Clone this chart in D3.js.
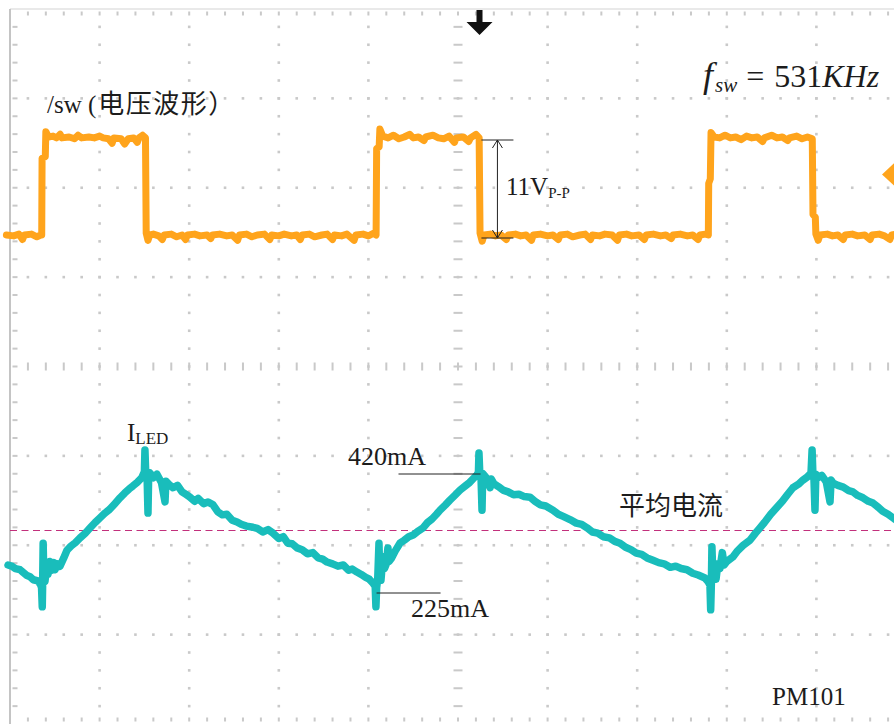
<!DOCTYPE html>
<html>
<head>
<meta charset="utf-8">
<script src="https://cdn.jsdelivr.net/npm/d3@7"></script>
<style>
  body { margin: 0; background: #fff; }
</style>
</head>
<body>
<div id="scope"></div>
<script>
// scope settings: 0.5us/div, 10 x 8 divisions, 5 minor steps per division
const timeDomain = [0, 5]
const divsX = 10, divsY = 8, minorPerDiv = 5

// SW node voltage [t us, V]
const swPoints = [
  [-0.02,0],[0.02,-0.1],[0.05,0.1],[0.07,-0.5],[0.08,0],[0.12,0.1],[0.15,-0.2],[0.172,0],
  [0.177,0],[0.179,8.6],[0.197,8.8],[0.200,11.6],[0.215,11.0],[0.24,11.1],[0.26,10.9],[0.28,11.3],[0.29,10.9],[0.33,11.0],[0.36,10.8],[0.38,11.2],[0.40,10.9],[0.44,11.0],[0.47,10.9],[0.50,11.1],[0.52,10.9],[0.55,10.8],[0.57,10.3],[0.58,10.9],[0.62,10.8],[0.64,10.2],[0.66,10.8],[0.69,10.9],[0.71,10.4],[0.72,10.9],[0.74,11.2],[0.756,10.9],
  [0.760,0.2],[0.77,-0.6],[0.78,0],[0.80,0.1],[0.83,-0.1],[0.85,-0.5],[0.86,0],[0.90,0.1],[0.93,-0.2],[0.96,0],[0.98,-0.5],[0.99,0],[1.03,0.1],[1.06,-0.1],[1.10,0],[1.12,-0.4],[1.13,0],[1.17,0.1],[1.21,-0.1],[1.24,0],[1.27,-0.6],[1.28,0],[1.32,0.1],[1.35,-0.2],[1.38,0],[1.42,0.1],[1.45,-0.5],[1.46,0],[1.50,-0.1],[1.53,0.1],[1.57,-0.1],[1.60,0],[1.62,-0.5],[1.63,0],[1.67,0.1],[1.70,-0.2],[1.74,0],[1.77,0.1],[1.80,-0.5],[1.81,0],[1.85,-0.1],[1.88,0.1],[1.92,-0.6],[1.93,0],[1.97,0.1],[2.00,-0.1],[2.03,0.2],[2.043,0],
  [2.046,9.7],[2.060,9.9],[2.064,11.9],[2.08,11.1],[2.11,10.9],[2.14,11.2],[2.17,10.8],[2.20,11.0],[2.23,11.3],[2.25,10.9],[2.28,11.0],[2.31,10.6],[2.32,11.0],[2.36,11.2],[2.39,10.9],[2.42,10.8],[2.45,11.1],[2.48,10.4],[2.49,10.9],[2.53,11.0],[2.56,10.5],[2.57,10.9],[2.60,11.3],[2.618,10.9],
  [2.623,0.2],[2.635,-0.7],[2.645,0],[2.68,0.1],[2.71,-0.1],[2.74,0],[2.77,-0.5],[2.78,0],[2.82,0.1],[2.85,-0.1],[2.88,0],[2.91,-0.6],[2.92,0],[2.96,0.1],[3.00,-0.1],[3.03,0],[3.06,-0.5],[3.07,0],[3.11,0.1],[3.14,-0.2],[3.18,0],[3.21,0.1],[3.24,-0.5],[3.25,0],[3.29,-0.1],[3.32,0.1],[3.36,0],[3.39,-0.6],[3.40,0],[3.44,0.1],[3.47,-0.1],[3.51,0],[3.54,-0.5],[3.55,0],[3.59,0.1],[3.63,-0.1],[3.66,0],[3.69,-0.4],[3.70,0],[3.74,0.1],[3.78,-0.1],[3.81,0],[3.84,-0.5],[3.85,0],[3.88,0.1],[3.897,0],
  [3.899,5.8],[3.908,6.3],[3.912,11.5],[3.93,11.0],[3.96,10.9],[3.99,11.2],[4.02,10.9],[4.05,11.0],[4.08,10.7],[4.11,11.1],[4.14,10.9],[4.17,11.0],[4.20,10.5],[4.21,10.9],[4.25,11.2],[4.28,10.9],[4.31,11.0],[4.34,10.6],[4.35,10.9],[4.39,11.1],[4.42,10.8],[4.45,11.0],[4.477,10.8],
  [4.481,2.3],[4.494,2.0],[4.497,0.1],[4.51,-0.6],[4.52,0],[4.56,0.1],[4.59,-0.1],[4.62,0],[4.65,-0.5],[4.66,0],[4.70,0.1],[4.73,-0.1],[4.77,0],[4.80,-0.5],[4.81,0],[4.85,0.1],[4.88,-0.1],[4.91,-0.5],[4.92,0],[4.95,0.1]
]

// LED current [t us, mA]
const iledPoints = [
  [-0.011,264],[0.01,262],[0.03,258],[0.056,256],[0.075,251],[0.095,246],[0.112,244],[0.13,239],[0.156,237],[0.17,231],[0.176,226],
  [0.180,193],[0.182,228],[0.185,301],[0.189,240],[0.195,236],[0.205,262],[0.212,248],[0.223,270],[0.232,255],[0.245,268],[0.251,256],[0.265,266],
  [0.279,262],[0.30,276],[0.318,289],[0.34,296],[0.365,302],[0.391,310],[0.42,318],[0.45,328],[0.475,336],[0.502,344],[0.53,352],[0.555,358],[0.585,368],[0.614,378],[0.64,386],[0.665,393],[0.686,398],[0.71,404],[0.735,412],[0.750,422],
  [0.753,459],[0.757,424],[0.765,415],[0.770,352],[0.774,418],[0.781,420],
  [0.80,412],[0.82,418],[0.845,404],[0.865,371],[0.870,406],[0.89,400],[0.91,395],[0.935,399],[0.96,388],[0.98,384],[1.004,379],[1.03,372],[1.05,377],[1.08,368],[1.105,371],[1.133,366],[1.16,354],[1.185,349],[1.21,350],[1.24,340],[1.267,337],[1.29,333],[1.32,330],[1.356,328],[1.38,326],[1.41,320],[1.44,324],[1.468,318],[1.50,309],[1.525,312],[1.55,301],[1.575,300],[1.602,293],[1.63,290],[1.66,283],[1.69,285],[1.72,276],[1.745,274],[1.769,269],[1.80,266],[1.83,262],[1.86,264],[1.89,255],[1.91,257],[1.936,252],[1.96,248],[1.985,243],[2.005,240],[2.026,233],[2.038,228],
  [2.042,193],[2.046,226],[2.052,240],[2.059,301],[2.063,250],[2.07,238],[2.081,278],[2.09,258],[2.10,266],[2.109,293],[2.115,270],[2.13,276],[2.15,288],
  [2.176,301],[2.20,306],[2.225,312],[2.25,315],[2.28,322],[2.305,327],[2.33,336],[2.355,342],[2.38,350],[2.400,357],[2.43,366],[2.455,374],[2.485,383],[2.511,391],[2.54,398],[2.565,404],[2.59,412],[2.606,417],[2.614,421],
  [2.617,454],[2.621,423],[2.628,418],[2.634,357],[2.638,419],[2.65,415],[2.665,409],[2.679,395],[2.685,410],
  [2.70,402],[2.725,397],[2.751,391],[2.78,388],[2.81,383],[2.84,384],[2.87,380],[2.902,379],[2.93,372],[2.96,366],[2.99,364],[3.030,357],[3.06,350],[3.09,346],[3.125,341],[3.16,335],[3.19,333],[3.220,327],[3.25,320],[3.28,318],[3.31,312],[3.345,310],[3.375,304],[3.404,301],[3.435,294],[3.465,290],[3.495,284],[3.525,282],[3.555,276],[3.588,272],[3.62,268],[3.65,266],[3.685,260],[3.715,262],[3.745,258],[3.778,256],[3.81,250],[3.84,247],[3.878,242],[3.895,236],[3.906,230],
  [3.910,188],[3.914,234],[3.917,295],[3.922,245],[3.93,252],[3.94,240],[3.95,266],[3.962,258],[3.975,285],[3.985,264],
  [4.00,270],[4.035,278],[4.06,288],[4.09,297],[4.129,306],[4.16,318],[4.185,327],[4.21,336],[4.245,350],[4.280,362],[4.31,372],[4.34,384],[4.369,395],[4.40,401],[4.425,408],[4.448,413],[4.470,420],
  [4.476,459],[4.480,422],[4.486,414],[4.492,357],[4.497,418],[4.51,412],[4.53,416],[4.555,405],[4.576,371],[4.582,408],
  [4.593,403],[4.62,399],[4.65,396],[4.68,390],[4.704,388],[4.73,382],[4.76,378],[4.79,372],[4.816,369],[4.845,362],[4.87,355],[4.90,350],[4.927,344],[4.94,341]
]

const swLevels = [0, 11]          // V low / high
const iledMarks = [225, 420]      // mA valley / peak
const triggerT = 2.62             // trigger position, us
const triggerLevel = 6.8          // trigger level, V
const ppT = 2.72                  // where the 11Vp-p arrow sits

const SERIF = "'Liberation Serif', 'Times New Roman', serif"
const CJK = "'Noto Sans CJK SC', sans-serif"
const ink = "#1c1c1c"

let W = 894, H = 724
let svg = d3.select("#scope").append("svg").attr("width", W).attr("height", H)

let x = d3.scaleLinear().domain(timeDomain).range([10, 906])
let gx = d3.scaleLinear().domain([0, divsX]).range([10, 906])
let gy = d3.scaleLinear().domain([0, divsY]).range([9, 724])
let yV = d3.scaleLinear().domain(swLevels).range([235, 137])
let yI = d3.scaleLinear().domain(iledMarks).range([588, 473])

// ---- graticule
let grid = svg.append("g")
let minorX = d3.range(0, divsX * minorPerDiv + 1).map(i => i / minorPerDiv)
let minorY = d3.range(0, divsY * minorPerDiv + 1).map(i => i / minorPerDiv)
let dotCol = "#c9c9c9"

for (let k = 1; k < divsY; k++) {
  let centre = k == divsY / 2
  grid.selectAll(null).data(minorX.slice(1)).enter().append("rect")
    .attr("x", d => gx(d) - (centre ? 1 : 1.3))
    .attr("y", gy(k) - (centre ? 4 : 1.3))
    .attr("width", centre ? 2 : 2.6)
    .attr("height", centre ? 8 : 2.6)
    .attr("fill", dotCol)
}
for (let k = 1; k < divsX; k++) {
  let centre = k == divsX / 2
  grid.selectAll(null).data(minorY.slice(1, -1)).enter().append("rect")
    .attr("x", gx(k) - (centre ? 4.5 : 1.3))
    .attr("y", d => gy(d) - (centre ? 1 : 1.3))
    .attr("width", centre ? 9 : 2.6)
    .attr("height", centre ? 2 : 2.6)
    .attr("fill", dotCol)
}
// border + edge ticks
grid.append("line").attr("x1", gx(0)).attr("x2", W).attr("y1", gy(0)).attr("y2", gy(0))
  .attr("stroke", "#d4d4d4").attr("stroke-width", 1.2)
grid.append("line").attr("x1", gx(0)).attr("x2", gx(0)).attr("y1", gy(0)).attr("y2", H)
  .attr("stroke", "#c4c4c4").attr("stroke-width", 2)
grid.selectAll(null).data(minorX.slice(1)).enter().append("rect")
  .attr("x", d => gx(d) - 1).attr("y", gy(0) + 2.5).attr("width", 2).attr("height", 4).attr("fill", dotCol)
grid.selectAll(null).data(minorX.slice(1)).enter().append("rect")
  .attr("x", d => gx(d) - 1).attr("y", gy(divsY) - 6.5).attr("width", 2).attr("height", 4).attr("fill", dotCol)
grid.selectAll(null).data(minorY.slice(1, -1)).enter().append("rect")
  .attr("x", gx(0) + 2.5).attr("y", d => gy(d) - 1).attr("width", 5).attr("height", 2).attr("fill", dotCol)

// ---- average current
let avg = d3.mean(iledMarks)
svg.append("line").attr("x1", gx(0)).attr("x2", W).attr("y1", yI(avg)).attr("y2", yI(avg))
  .attr("stroke", "#c2307c").attr("stroke-width", 1.1).attr("stroke-dasharray", "7,4.5")

// ---- traces
let swLine = d3.line().x(d => x(d[0])).y(d => yV(d[1]))
let iLine = d3.line().x(d => x(d[0])).y(d => yI(d[1]))

svg.append("path").attr("d", swLine(swPoints))
  .attr("fill", "none").attr("stroke", "#ffa41c").attr("stroke-width", 7)
  .attr("stroke-linejoin", "round").attr("stroke-linecap", "round")
svg.append("path").attr("d", iLine(iledPoints))
  .attr("fill", "none").attr("stroke", "#19bdbb").attr("stroke-width", 7.5)
  .attr("stroke-linejoin", "round").attr("stroke-linecap", "round")

// ---- markers
svg.append("path")
  .attr("transform", `translate(${x(triggerT)},0)`)
  .attr("d", "M-3,10L3,10L3,22L13,22L0,35L-13,22L-3,22Z")
  .attr("fill", "#111")
svg.append("path")
  .attr("transform", `translate(${gx(divsX) - 24},${yV(triggerLevel)})`)
  .attr("d", "M0,0L14,-13L14,13Z")
  .attr("fill", "#ffa41c")

// ---- annotations
let ann = svg.append("g").attr("stroke", "#222").attr("stroke-width", 1).attr("fill", "none")
let ax = x(ppT), aTop = yV(swLevels[1]) + 3, aBot = yV(swLevels[0]) + 3
ann.append("line").attr("x1", ax).attr("x2", ax).attr("y1", aTop).attr("y2", aBot)
ann.append("line").attr("x1", ax - 16).attr("x2", ax + 16).attr("y1", aTop).attr("y2", aTop)
ann.append("line").attr("x1", ax - 16).attr("x2", ax + 16).attr("y1", aBot).attr("y2", aBot)
ann.append("path").attr("d", `M${ax - 5},${aTop + 8}L${ax},${aTop}L${ax + 5},${aTop + 8}`)
ann.append("path").attr("d", `M${ax - 5},${aBot - 8}L${ax},${aBot}L${ax + 5},${aBot - 8}`)

let pkT = 2.62, vlT = 2.04
ann.append("line").attr("x1", x(pkT) - 81).attr("x2", x(pkT) + 1).attr("y1", yI(iledMarks[1]) + 1).attr("y2", yI(iledMarks[1]) + 1)
ann.append("line").attr("x1", x(vlT) + 1).attr("x2", x(vlT) + 65).attr("y1", yI(iledMarks[0]) + 5).attr("y2", yI(iledMarks[0]) + 5)

// ---- text
let label = (xp, yp, size) => svg.append("text").attr("x", xp).attr("y", yp)
  .attr("font-size", size).attr("font-family", SERIF).attr("fill", ink)

let t1 = label(47, 113, 25)
t1.append("tspan").attr("font-family", SERIF).text("/sw (")
t1.append("tspan").attr("font-family", CJK).attr("font-size", 26).attr("letter-spacing", 1.5).attr("dx", 2).text("电压波形）")

let t2 = label(703, 87, 32)
t2.append("tspan").attr("font-family", SERIF).attr("font-style", "italic").attr("font-size", 36).text("f")
t2.append("tspan").attr("font-family", SERIF).attr("font-style", "italic").attr("font-size", 21).attr("dy", 5).attr("dx", 2).text("sw")
t2.append("tspan").attr("font-family", SERIF).attr("dy", -5).attr("dx", 9).text("=")
t2.append("tspan").attr("font-family", SERIF).attr("dx", 10).text("531")
t2.append("tspan").attr("font-family", SERIF).attr("font-style", "italic").text("KHz")

let t3 = label(506, 195, 25)
t3.append("tspan").attr("font-family", SERIF).text("11V")
t3.append("tspan").attr("font-family", SERIF).attr("font-size", 15).attr("dy", 3).text("P-P")

let t4 = label(127, 441, 25)
t4.append("tspan").attr("font-family", SERIF).text("I")
t4.append("tspan").attr("font-family", SERIF).attr("font-size", 17).attr("dy", 3).text("LED")

label(348, 465, 26).text(iledMarks[1] + "mA")
label(411, 617, 26).text(iledMarks[0] + "mA")
label(619, 515, 26).attr("font-family", CJK).text("平均电流")
label(772, 705, 25).text("PM101")
</script>
</body>
</html>
